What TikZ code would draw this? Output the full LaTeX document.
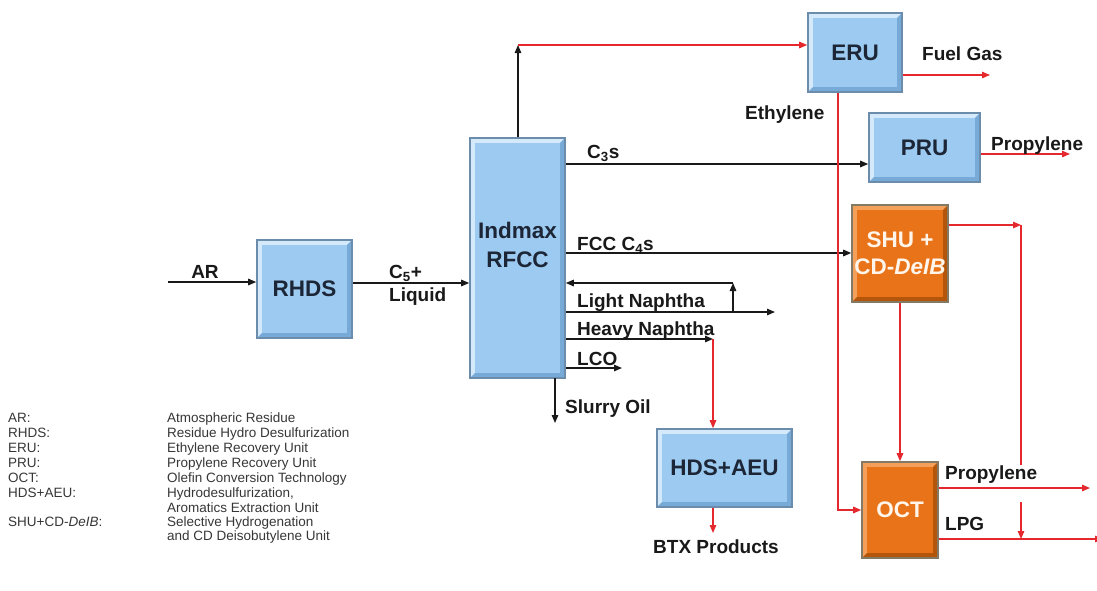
\documentclass[tikz,border=0pt]{standalone}
\usepackage{fontspec}
\setmainfont{Liberation Sans}
\usetikzlibrary{arrows.meta}
\definecolor{redc}{RGB}{228,40,45}
\definecolor{blkc}{RGB}{25,25,25}
\definecolor{bbord}{RGB}{108,140,172}
\definecolor{blight}{RGB}{212,233,250}
\definecolor{bdark}{RGB}{120,170,215}
\definecolor{bface}{RGB}{157,202,240}
\definecolor{obord}{RGB}{130,122,100}
\definecolor{olight}{RGB}{245,160,90}
\definecolor{odark}{RGB}{180,85,12}
\definecolor{oface}{RGB}{232,115,25}
\definecolor{btext}{RGB}{28,38,55}
\definecolor{legc}{RGB}{55,55,55}
\newcommand\bevelpic[4]{%
 \fill[#1] (path picture bounding box.north west) -- (path picture bounding box.north east)
   -- ([shift={(-#4,-#4)}]path picture bounding box.north east)
   -- ([shift={(#4,-#4)}]path picture bounding box.north west)
   -- ([shift={(#4,#4)}]path picture bounding box.south west)
   -- (path picture bounding box.south west) -- cycle;
 \fill[#2] (path picture bounding box.south east) -- (path picture bounding box.north east)
   -- ([shift={(-#4,-#4)}]path picture bounding box.north east)
   -- ([shift={(-#4,#4)}]path picture bounding box.south east)
   -- ([shift={(#4,#4)}]path picture bounding box.south west)
   -- (path picture bounding box.south west) -- cycle;
 \fill[#3] ([shift={(#4,-#4)}]path picture bounding box.north west) rectangle ([shift={(-#4,#4)}]path picture bounding box.south east);
}
\tikzset{
 bluebox/.style={rectangle, draw=bbord, line width=1.6pt, fill=bface, inner sep=0pt,
   text=btext, font=\fontsize{22.5}{27}\selectfont\bfseries, align=center,
   path picture={\bevelpic{blight}{bdark}{bface}{5pt}}},
 orangebox/.style={rectangle, draw=obord, line width=1.6pt, fill=oface, inner sep=0pt,
   text=white!92!orange, font=\fontsize{22.5}{27}\selectfont\bfseries, align=center,
   path picture={\bevelpic{olight}{odark}{oface}{5pt}}},
 blk/.style={draw=blkc, line width=1.3pt, -{Triangle[length=8pt,width=6.5pt]}},
 blkl/.style={draw=blkc, line width=1.3pt},
 rd/.style={draw=redc, line width=1.3pt, -{Triangle[length=8pt,width=6.5pt]}},
 rdl/.style={draw=redc, line width=1.3pt},
 lbl/.style={font=\fontsize{19}{22}\selectfont\bfseries, text=blkc, inner sep=0pt},
 blbl/.style={font=\fontsize{22.5}{27}\selectfont\bfseries, text=btext, inner sep=0pt},
 leg/.style={font=\fontsize{13.5}{15}\selectfont, text=legc, inner sep=0pt, anchor=base west},
}
\begin{document}
\begin{tikzpicture}[x=1pt,y=-1pt]
\useasboundingbox (0,0) rectangle (1097,590);
\fill[white] (0,0) rectangle (1097,590);

% boxes
\node[bluebox, minimum width=95pt, minimum height=98pt] (rhds) at (304.5,289) {RHDS};
\node[bluebox, minimum width=95pt, minimum height=240pt] (indmax) at (517.5,258) {};
\node[blbl, anchor=base] (indmaxt) at (517.5,238) {Indmax};
\node[blbl, anchor=base] (rfcct) at (517.5,267) {RFCC};
\node[bluebox, minimum width=94pt, minimum height=79pt] (eru) at (855,52.5) {ERU};
\node[bluebox, minimum width=111pt, minimum height=69pt] (pru) at (924.5,147.5) {PRU};
\node[orangebox, minimum width=96pt, minimum height=97pt] (shu) at (900,253.5) {SHU +\\CD-\textit{DeIB}};
\node[bluebox, minimum width=135pt, minimum height=78pt] (hds) at (724.5,468) {HDS+AEU};
\node[orangebox, minimum width=76pt, minimum height=96pt] (oct) at (900,510) {OCT};

% coordinates
\coordinate (arin) at (168,282);
\coordinate (top) at (518,45);
\coordinate (rc) at (733,283);
\coordinate (rcb) at (733,312);
\coordinate (lnend) at (775,312);
\coordinate (hn) at (713,339);
\coordinate (lcoend) at (622,368);
\coordinate (slt) at (555,378);
\coordinate (slend) at (555,423);
\coordinate (fgend) at (990,75);
\coordinate (ethc) at (838,510);
\coordinate (pr1end) at (1070,154);
\coordinate (sj) at (1021,225);
\coordinate (sjgap1) at (1021,465);
\coordinate (sjgap2) at (1021,502);
\coordinate (sjend) at (1021,539);
\coordinate (pr2end) at (1090,488);
\coordinate (lpgend) at (1103,539);
\coordinate (btxend) at (713,533);

% black connectors
\draw[blk] (arin) -- (rhds.west |- arin);
\draw[blk] (rhds.east |- 0,283) -- (indmax.west |- 0,283);
\draw[blk] (indmax.north -| top) -- (top);
\draw[blk] (indmax.east |- 0,164) -- (pru.west |- 0,164);
\draw[blk] (indmax.east |- 0,253) -- (shu.west |- 0,253);
\draw[blk] (rcb) -- (rc);
\draw[blk] (rc) -- (indmax.east |- rc);
\draw[blk] (indmax.east |- lnend) -- (lnend);
\draw[blk] (indmax.east |- hn) -- (hn);
\draw[blk] (indmax.east |- lcoend) -- (lcoend);
\draw[blk] (slt) -- (slend);

% red connectors
\draw[rd] (top) -- (eru.west |- top);
\draw[rd] (eru.east |- fgend) -- (fgend);
\draw[rd] (eru.south -| ethc) -- (ethc) -- (oct.west |- ethc);
\draw[rd] (pru.east |- pr1end) -- (pr1end);
\draw[rd] (shu.east |- sj) -- (sj);
\draw[rdl] (sj) -- (sjgap1);
\draw[rd] (sjgap2) -- (sjend);
\draw[rd] (shu.south) -- (oct.north);
\draw[rd] (oct.east |- pr2end) -- (pr2end);
\draw[rd] (oct.east |- lpgend) -- (lpgend);
\draw[rd] (hn) -- (hds.north -| hn);
\draw[rd] (hds.south -| btxend) -- (btxend);

% labels
\node[lbl, anchor=base] (lar) at (205,278) {AR};
\node[lbl, anchor=base west] (lc5) at (389,278) {C\textsubscript{5}+};
\node[lbl, anchor=base west] (lliq) at (389,301) {Liquid};
\node[lbl, anchor=base west] (lc3) at (587,158) {C\textsubscript{3}s};
\node[lbl, anchor=base west] (lfcc) at (577,250) {FCC C\textsubscript{4}s};
\node[lbl, anchor=base west] (lln) at (577,307) {Light Naphtha};
\node[lbl, anchor=base west] (lhn) at (577,335) {Heavy Naphtha};
\node[lbl, anchor=base west] (llco) at (577,365) {LCO};
\node[lbl, anchor=base west] (lsl) at (565,413) {Slurry Oil};
\node[lbl, anchor=base west] (leth) at (745,119) {Ethylene};
\node[lbl, anchor=base west] (lfg) at (922,60) {Fuel Gas};
\node[lbl, anchor=base west] (lpr1) at (991,150) {Propylene};
\node[lbl, anchor=base west] (lpr2) at (945,479) {Propylene};
\node[lbl, anchor=base west] (llpg) at (945,530) {LPG};
\node[lbl, anchor=base] (lbtx) at (716,553) {BTX Products};

% legend
\node[leg] (k1) at (8,422) {AR:};
\node[leg] (k2) at (8,437) {RHDS:};
\node[leg] (k3) at (8,452) {ERU:};
\node[leg] (k4) at (8,467) {PRU:};
\node[leg] (k5) at (8,482) {OCT:};
\node[leg] (k6) at (8,497) {HDS+AEU:};
\node[leg] (k7) at (8,526) {SHU+CD-\textit{DeIB}:};
\node[leg] (v1) at (167,422) {Atmospheric Residue};
\node[leg] (v2) at (167,437) {Residue Hydro Desulfurization};
\node[leg] (v3) at (167,452) {Ethylene Recovery Unit};
\node[leg] (v4) at (167,467) {Propylene Recovery Unit};
\node[leg] (v5) at (167,482) {Olefin Conversion Technology};
\node[leg] (v6) at (167,497) {Hydrodesulfurization,};
\node[leg] (v6b) at (167,512) {Aromatics Extraction Unit};
\node[leg] (v7) at (167,526) {Selective Hydrogenation};
\node[leg] (v7b) at (167,540) {and CD Deisobutylene Unit};
\end{tikzpicture}
\end{document}
